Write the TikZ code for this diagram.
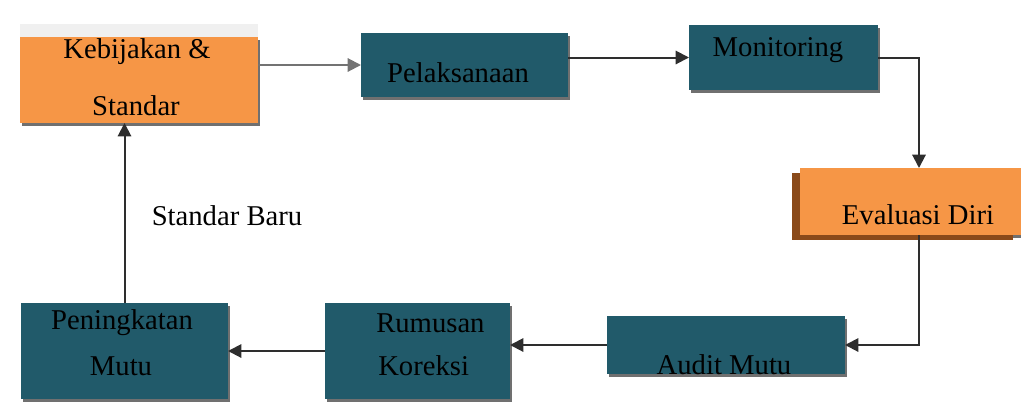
\documentclass[tikz,border=0pt]{standalone}
\usepackage{fontspec}
\setmainfont{Liberation Serif}
\usetikzlibrary{arrows.meta,shadows}
\definecolor{teal5}{HTML}{215A6A}
\definecolor{orng}{HTML}{F69646}
\definecolor{brwn}{HTML}{8A4A1A}
\definecolor{lineC}{HTML}{2E2E2E}
\tikzset{
  box/.style={draw=none, inner sep=0pt, outer sep=0pt,
    drop shadow={shadow xshift=1.5pt, shadow yshift=-2.5pt, fill=black!70, opacity=0.8}},
  tealbox/.style={box, fill=teal5},
  orangebox/.style={box, fill=orng},
  lbl/.style={inner sep=0pt, font=\fontsize{21.5}{25}\selectfont, text=black},
  conn/.style={draw=lineC, line width=1.5pt, -{Triangle[length=10pt,width=10pt]}},
}
\begin{document}
\begin{tikzpicture}[x=0.75pt,y=-0.75pt]
\useasboundingbox (0,0) rectangle (1021,405);
% boxes
\node[orangebox, minimum width=238*0.75pt, minimum height=86*0.75pt] (keb) at (139,80) {};
\fill[gray!12] (20,24) rectangle (258,37);
\node[tealbox, minimum width=207*0.75pt, minimum height=64*0.75pt] (pel) at (464.5,65) {};
\node[tealbox, minimum width=189*0.75pt, minimum height=65*0.75pt] (mon) at (783.5,57.5) {};
\node[orangebox, drop shadow={shadow xshift=-6pt, shadow yshift=-4pt, fill=brwn, opacity=1},
  minimum width=221*0.75pt, minimum height=67*0.75pt] (eva) at (910.5,201.5) {};
\node[tealbox, minimum width=238*0.75pt, minimum height=58*0.75pt] (aud) at (726,345) {};
\node[tealbox, minimum width=185*0.75pt, minimum height=96*0.75pt] (rum) at (417.5,351) {};
\node[tealbox, minimum width=207*0.75pt, minimum height=96*0.75pt] (pen) at (124.5,351) {};
% texts
\node[lbl] (t1) at (137,52) {Kebijakan \&};
\node[lbl] (t2) at (136,106) {Standar};
\node[lbl] (t3) at (458,73) {Pelaksanaan};
\node[lbl] (t4) at (778,50) {Monitoring};
\node[lbl] (t5) at (918,215) {Evaluasi Diri};
\node[lbl] (t6) at (724,365) {Audit Mutu};
\node[lbl, anchor=west] (t7) at (376,323) {Rumusan};
\node[lbl, anchor=west] (t8) at (378,366) {Koreksi};
\node[lbl] (t9) at (122,323) {Peningkatan};
\node[lbl] (t10) at (121,366) {Mutu};
\node[lbl] (t11) at (227,216) {Standar Baru};
% connectors
\coordinate (rx) at (919,0);
\draw[conn, draw=black!55] (keb.east |- pel.west) -- (pel.west);
\draw[conn] (pel.east |- mon.west) -- (mon.west);
\draw[conn] (mon.east) -| (rx |- eva.north);
\draw[conn] (rx |- eva.south) |- (aud.east);
\draw[conn] (aud.west) -- (rum.east |- aud.west);
\draw[conn] (rum.west) -- (pen.east |- rum.west);
\draw[conn] (pen.north) -- (keb.south -| pen.north);
\end{tikzpicture}
\end{document}
